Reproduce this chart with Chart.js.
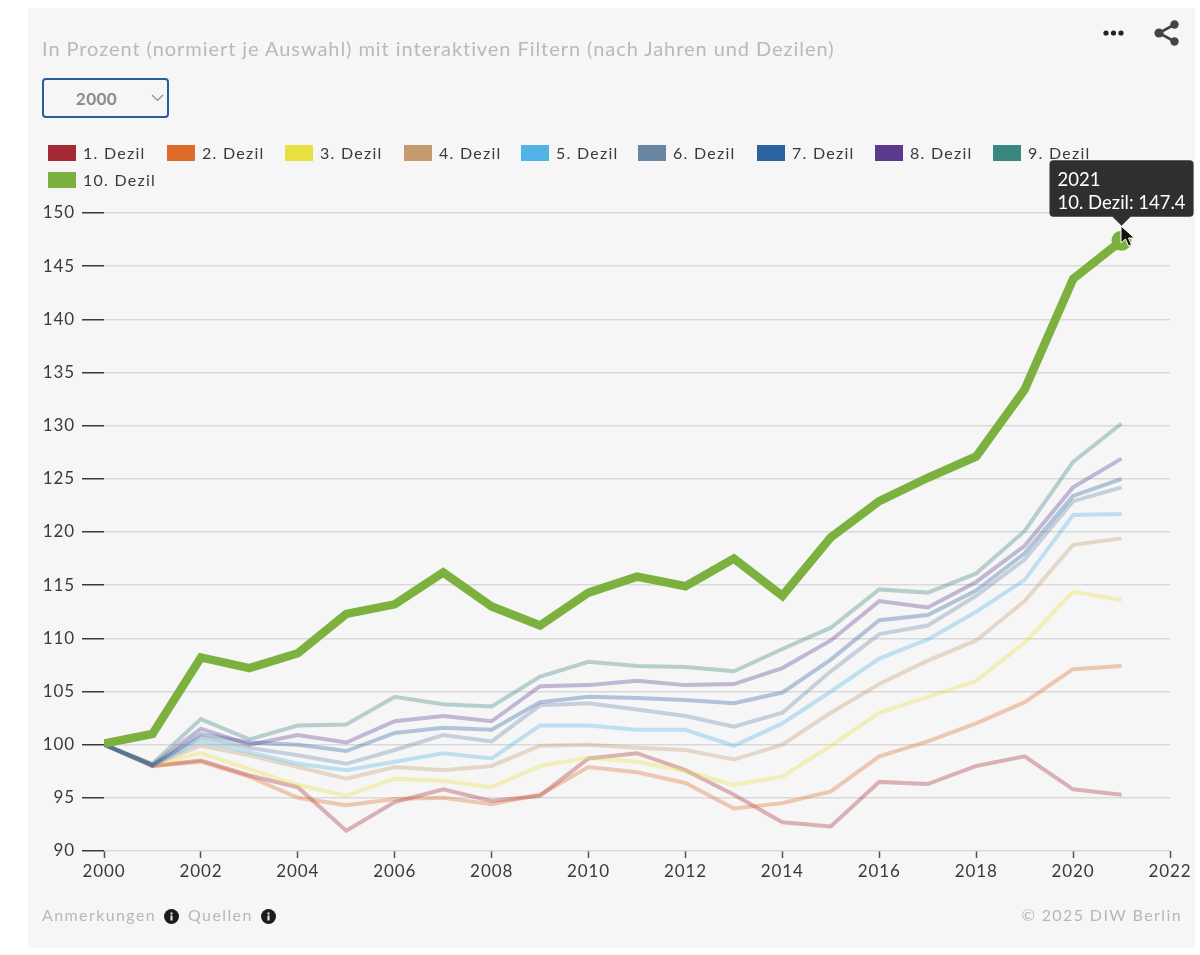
<!DOCTYPE html>
<html lang="de">
<head>
<meta charset="utf-8">
<title>Dezile</title>
<script src="https://cdn.jsdelivr.net/npm/chart.js@4"></script>
<style>
  html, body { margin: 0; padding: 0; background: #fff; font-family: Lato, sans-serif; }
  body { position: relative; width: 1200px; height: 955px; overflow: hidden; }
  #panel { position: absolute; left: 28px; top: 8px; width: 1167px; height: 940px; background: #f6f6f6; }
  canvas { position: absolute; left: 0; top: 0; }
  .txt { position: absolute; white-space: nowrap; }
  #subtitle { left: 42px; top: 37px; font-size: 20px; line-height: 22px; letter-spacing: .94px; color: #b9b9b9; }
  #year { position: absolute; left: 42px; top: 78px; width: 127px; height: 40px; box-sizing: border-box;
          border: 2px solid #2b5c9b; border-radius: 4px; background: #f6f6f6; color: #8c8c8c;
          font: bold 17px Lato, sans-serif; letter-spacing: .5px; text-align: center; padding-right: 18px;
          appearance: none; -webkit-appearance: none; outline: none; }
  #legend .item { position: absolute; height: 16px; font-size: 16px; line-height: 16px; letter-spacing: 1.25px; color: #3a3a3a; white-space: nowrap; }
  #legend .box { position: absolute; left: 0; top: 0; width: 28px; height: 16px; }
  #legend .lab { position: absolute; left: 35px; top: 0; }
  .foot { font-size: 16px; line-height: 18px; letter-spacing: 1.4px; color: #b7b7b7; top: 906px; }
  svg { position: absolute; }
</style>
</head>
<body>
<div id="panel"></div>
<canvas id="myChart" width="1200" height="955"></canvas>
<div class="txt" id="subtitle">In Prozent (normiert je Auswahl) mit interaktiven Filtern (nach Jahren und Dezilen)</div>
<select id="year"><option>2000</option></select>
<svg style="left:151px;top:94px" width="13" height="8" viewBox="0 0 13 8"><path d="M1 1l5.5 5.5L12 1" fill="none" stroke="#8c8c8c" stroke-width="1.2"/></svg>
<div id="legend"></div>
<svg style="left:1102px;top:29px" width="24" height="8" viewBox="0 0 24 8"><circle cx="4" cy="4" r="2.6" fill="#222"/><circle cx="11.5" cy="4" r="2.6" fill="#222"/><circle cx="19" cy="4" r="2.6" fill="#222"/></svg>
<svg style="left:1152px;top:18px" width="30" height="30" viewBox="0 0 30 30"><path d="M22.5 6.5L7 15l15.5 8.5" fill="none" stroke="#444" stroke-width="2.6"/><circle cx="22.500" cy="6.500" r="4.2" fill="#444"/><circle cx="7" cy="15" r="4.6" fill="#444"/><circle cx="22.5" cy="23.5" r="4.2" fill="#444"/></svg>
<div class="txt foot" style="left:42px">Anmerkungen</div>
<svg style="left:164px;top:909px" width="15" height="15" viewBox="0 0 15 15"><circle cx="7.5" cy="7.5" r="7.5" fill="#1c1c1c"/><rect x="6.5" y="6.5" width="2" height="5" fill="#eee"/><rect x="6.5" y="3.5" width="2" height="2" fill="#eee"/></svg>
<div class="txt foot" style="left:188px">Quellen</div>
<svg style="left:261px;top:909px" width="15" height="15" viewBox="0 0 15 15"><circle cx="7.5" cy="7.5" r="7.5" fill="#1c1c1c"/><rect x="6.5" y="6.5" width="2" height="5" fill="#eee"/><rect x="6.5" y="3.5" width="2" height="2" fill="#eee"/></svg>
<div class="txt foot" style="right:18px">© 2025 DIW Berlin</div>
<svg style="left:1119px;top:225px;z-index:5" width="16" height="24" viewBox="0 0 16 24"><path d="M2 1v17l4.5-4 3 7 3-1.300-3-6.700h6z" fill="#111" stroke="#fff" stroke-width="1"/></svg>

<script>
// ---------------------------DATA---------------------//
var years = [2000, 2001, 2002, 2003, 2004, 2005, 2006, 2007, 2008, 2009, 2010, 2011, 2012, 2013, 2014, 2015, 2016, 2017, 2018, 2019, 2020, 2021];

var dezil1 = [100, 98.0, 98.5, 97.1, 96.0, 91.9, 94.6, 95.8, 94.7, 95.2, 98.7, 99.2, 97.6, 95.3, 92.7, 92.3, 96.5, 96.3, 98.0, 98.9, 95.8, 95.3];
var dezil2 = [100, 98.0, 98.4, 97.0, 95.0, 94.3, 94.9, 95.0, 94.4, 95.3, 97.9, 97.4, 96.4, 94.0, 94.5, 95.6, 98.9, 100.3, 102.0, 104.0, 107.1, 107.4];
var dezil3 = [100, 98.1, 99.2, 97.7, 96.2, 95.2, 96.8, 96.6, 96.0, 98.0, 98.8, 98.4, 97.5, 96.2, 97.0, 99.9, 103.0, 104.5, 106.0, 109.6, 114.4, 113.6];
var dezil4 = [100, 98.1, 99.9, 99.0, 97.9, 96.8, 97.9, 97.6, 98.0, 99.9, 100.0, 99.7, 99.5, 98.6, 100.0, 103.0, 105.7, 107.9, 109.8, 113.5, 118.8, 119.4];
var dezil5 = [100, 98.1, 100.3, 99.3, 98.2, 97.6, 98.4, 99.2, 98.7, 101.8, 101.8, 101.4, 101.4, 99.9, 102.0, 105.0, 108.1, 109.9, 112.5, 115.5, 121.6, 121.7];
var dezil6 = [100, 98.1, 100.7, 99.7, 99.0, 98.2, 99.5, 100.9, 100.3, 103.7, 103.9, 103.3, 102.7, 101.7, 103.0, 106.9, 110.4, 111.2, 114.0, 117.4, 122.9, 124.2];
var dezil7 = [100, 98.0, 101.0, 100.2, 100.0, 99.4, 101.1, 101.6, 101.4, 104.0, 104.5, 104.4, 104.2, 103.9, 104.9, 108.0, 111.7, 112.2, 114.5, 118.0, 123.4, 125.0];
var dezil8 = [100, 98.1, 101.5, 100.0, 100.9, 100.2, 102.2, 102.7, 102.2, 105.5, 105.6, 106.0, 105.6, 105.7, 107.2, 109.8, 113.5, 112.9, 115.3, 118.7, 124.2, 126.9];
var dezil9 = [100, 98.2, 102.4, 100.5, 101.8, 101.9, 104.5, 103.8, 103.6, 106.4, 107.8, 107.4, 107.3, 106.9, 109.0, 111.0, 114.6, 114.3, 116.1, 120.1, 126.6, 130.2];
var dezil10 = [100.1, 101.0, 108.2, 107.2, 108.6, 112.3, 113.2, 116.2, 113.0, 111.2, 114.3, 115.8, 114.9, 117.5, 114.0, 119.5, 122.9, 125.1, 127.1, 133.4, 143.8, 147.4];

var names = ["1. Dezil", "2. Dezil", "3. Dezil", "4. Dezil", "5. Dezil", "6. Dezil", "7. Dezil", "8. Dezil", "9. Dezil", "10. Dezil"];
var values = [dezil1, dezil2, dezil3, dezil4, dezil5, dezil6, dezil7, dezil8, dezil9, dezil10];
var colors = ["#a52a35", "#dd6c2a", "#e8e040", "#c49b6e", "#52b4e6", "#6a86a3", "#2b62a0", "#5b3a90", "#3a8580", "#7cb13f"];

// ---------------------------LEGEND---------------------//
var legendX = [48, 167, 285, 404, 521, 638, 757, 875, 993, 48];
var legendY = [145, 145, 145, 145, 145, 145, 145, 145, 145, 172];
var legend = document.getElementById("legend");
names.forEach(function (name, i) {
    var item = document.createElement("div");
    item.className = "item";
    item.style.left = legendX[i] + "px";
    item.style.top = legendY[i] + "px";
    item.innerHTML = '<span class="box" style="background:' + colors[i] + '"></span><span class="lab">' + name + '</span>';
    legend.appendChild(item);
});

// ---------------------------LINE CHART---------------------//
function hexAlpha(hex, a) {
    var n = parseInt(hex.slice(1), 16);
    return "rgba(" + (n >> 16) + "," + ((n >> 8) & 255) + "," + (n & 255) + "," + a + ")";
}

var datasets = names.map(function (name, i) {
    var top = i === 9;
    return {
        label: name,
        data: values[i].map(function (v, j) { return { x: years[j], y: v }; }),
        borderColor: top ? colors[i] : hexAlpha(colors[i], 0.34),
        backgroundColor: colors[i],
        borderWidth: top ? 8.5 : 4,
        borderJoinStyle: "miter",
        pointRadius: 0,
        pointHoverRadius: top ? 10 : 0,
        pointHoverBackgroundColor: colors[i],
        pointHoverBorderWidth: 0,
        order: 9 - i,
        tension: 0
    };
});

// axis text has a little tracking in the reference, tooltip does not
var tracking = {
    id: "tracking",
    beforeDraw: function (chart) { chart.ctx.letterSpacing = "0.9px"; },
    afterDatasetsDraw: function (chart) { chart.ctx.letterSpacing = "0px"; }
};

var ctx = document.getElementById("myChart");

var chart = new Chart(ctx, {
    type: "line",
    data: { datasets: datasets },
    plugins: [tracking],
    options: {
        responsive: false,
        animation: false,
        events: [],
        layout: {
            padding: { left: 0, right: 30, top: 213, bottom: 68 }
        },
        plugins: {
            legend: { display: false },
            tooltip: {
                backgroundColor: "rgba(38,38,38,0.96)",
                titleColor: "#fff",
                bodyColor: "#fff",
                titleFont: { family: "Lato", size: 18.5, weight: "normal" },
                bodyFont: { family: "Lato", size: 18.5 },
                titleMarginBottom: 0,
                padding: { left: 8, right: 8, top: 9, bottom: 3 },
                cornerRadius: 4,
                caretSize: 9,
                caretPadding: 15,
                displayColors: false,
                yAlign: "bottom",
                xAlign: "center",
                callbacks: {
                    title: function (items) { return String(items[0].parsed.x); },
                    label: function (item) { return item.dataset.label + ": " + item.parsed.y.toFixed(1); }
                }
            }
        },
        scales: {
            x: {
                type: "linear",
                min: 2000,
                max: 2022,
                afterFit: function (scale) { scale.height = 36; },
                border: { display: false },
                grid: { drawOnChartArea: false, tickLength: 7, tickColor: "#555", tickWidth: 1.5 },
                ticks: {
                    stepSize: 2,
                    maxRotation: 0,
                    autoSkip: false,
                    padding: 3,
                    color: "#3a3a3a",
                    font: { family: "Lato", size: 17 },
                    callback: function (v) { return String(v); }
                }
            },
            y: {
                min: 90,
                max: 150,
                afterFit: function (scale) { scale.width = 104; },
                border: { display: false },
                grid: { color: "#d9d9d9", lineWidth: 1.5, tickLength: 22, tickColor: "#3a3a3a", tickWidth: 1.5 },
                ticks: {
                    stepSize: 5,
                    padding: 7,
                    color: "#3a3a3a",
                    font: { family: "Lato", size: 17 }
                }
            }
        }
    }
});

// hover state of the last point, as in the screenshot
var hovered = [{ datasetIndex: 9, index: 21 }];
chart.setActiveElements(hovered);
chart.tooltip.setActiveElements(hovered, { x: 0, y: 0 });
chart.update();
</script>
</body>
</html>
